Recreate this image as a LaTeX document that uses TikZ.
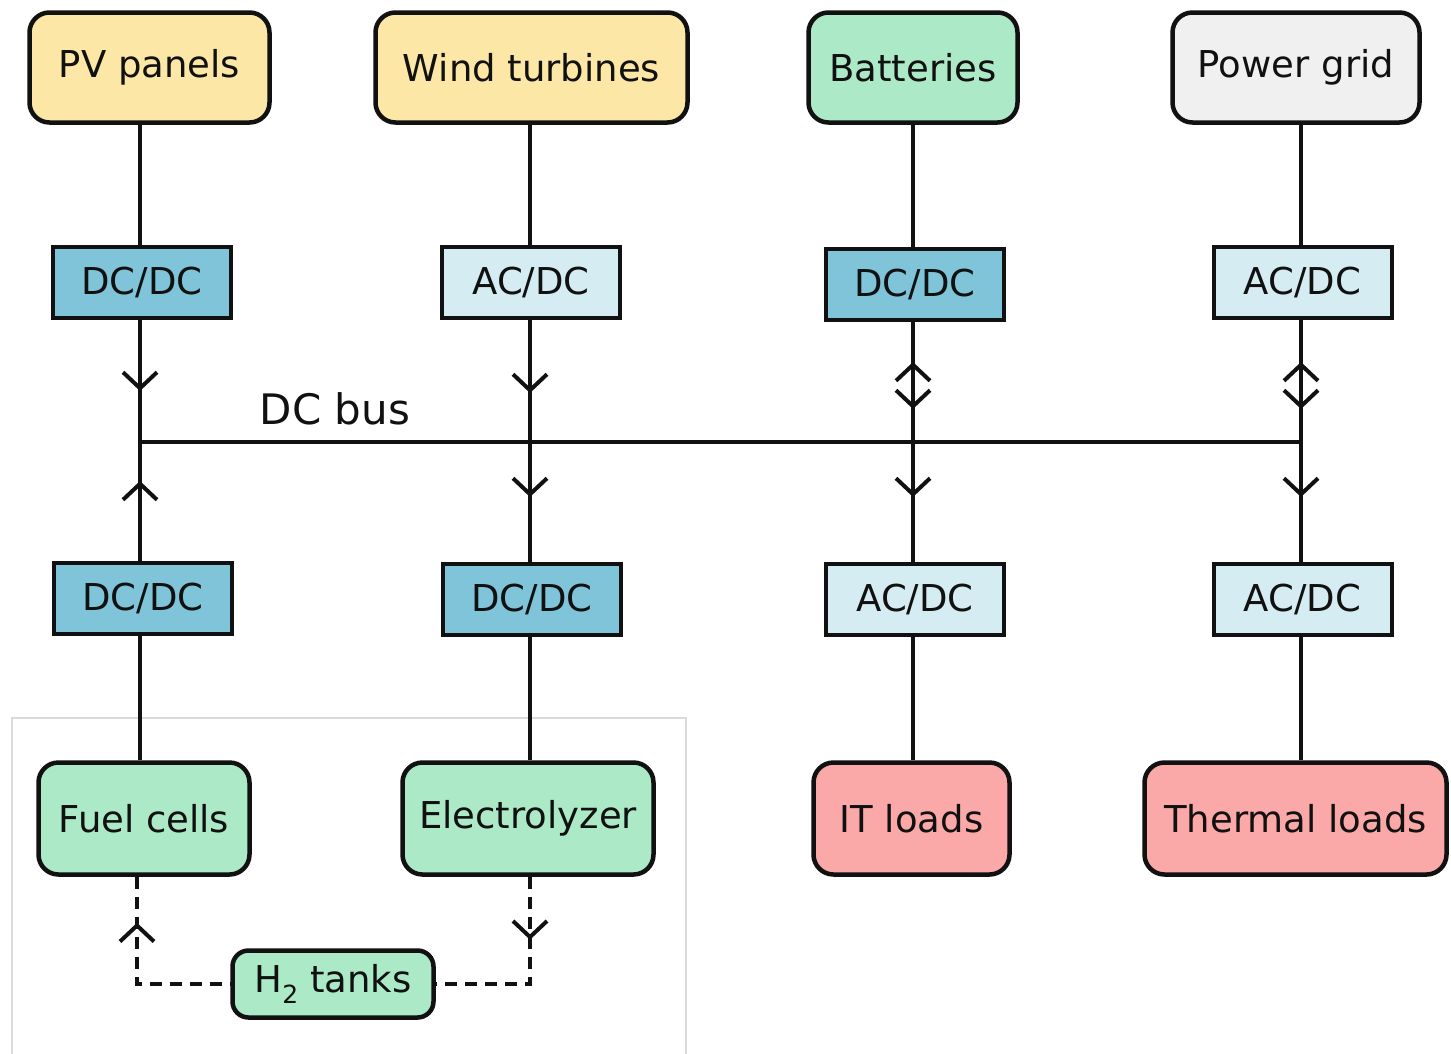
\documentclass[tikz,border=0pt]{standalone}
\usepackage{fontspec}
\setmainfont{DejaVu Sans}
\usetikzlibrary{arrows.meta,decorations.markings}

\definecolor{solar}{RGB}{253,231,166}
\definecolor{storage}{RGB}{171,233,199}
\definecolor{gridgray}{RGB}{240,240,240}
\definecolor{convdark}{RGB}{127,196,216}
\definecolor{convlight}{RGB}{214,236,243}
\definecolor{load}{RGB}{250,168,168}
\definecolor{framegray}{RGB}{218,218,218}
\definecolor{ink}{RGB}{17,17,17}

\tikzset{
  >={Straight Barb[length=16pt,width=34pt,line width=4pt]},
  unit/.style={draw=ink, line width=4.5pt, rounded corners=20pt, inner sep=0pt,
    text=ink, font=\fontsize{37}{44}\selectfont},
  conv/.style={draw=ink, line width=4pt, inner sep=0pt,
    minimum width=178pt, minimum height=71pt, text=ink,
    font=\fontsize{37}{44}\selectfont},
  wire/.style={draw=ink, line width=3.8pt},
  h2line/.style={wire, dash pattern=on 12pt off 8pt},
  mk/.style={postaction={decorate},
    decoration={markings, mark=at position #1 with {\arrow{>}}}},
  mkr/.style={postaction={decorate},
    decoration={markings, mark=at position #1 with {\arrowreversed{>}}}},
  mkboth/.style 2 args={postaction={decorate},
    decoration={markings,
      mark=at position #1 with {\arrowreversed{>}},
      mark=at position #2 with {\arrow{>}}}},
}

\begin{document}
\begin{tikzpicture}[x=1pt,y=-1pt]
\useasboundingbox (0,0) rectangle (1451,1053);

% hydrogen subsystem frame
\draw[framegray, line width=2pt] (12,1060) -- (12,718) -- (686,718) -- (686,1060);

% sources and storage
\node[unit, fill=solar, minimum width=240pt, minimum height=110pt] (pv) at (149.5,67.5) {PV panels};
\node[unit, fill=solar, minimum width=312pt, minimum height=110pt] (wind) at (531.5,67.5) {Wind turbines};
\node[unit, fill=storage, minimum width=209pt, minimum height=110pt] (batt) at (913,67.5) {Batteries};
\node[unit, fill=gridgray, minimum width=247pt, minimum height=110pt] (grid) at (1296,67.5) {Power grid};

% upper converters
\node[conv, fill=convdark] (c1) at (142,282.5) {DC/DC};
\node[conv, fill=convlight] (c2) at (531,282.5) {AC/DC};
\node[conv, fill=convdark] (c3) at (915,284.5) {DC/DC};
\node[conv, fill=convlight] (c4) at (1302.5,282.5) {AC/DC};

% lower converters
\node[conv, fill=convdark] (c5) at (143,598.5) {DC/DC};
\node[conv, fill=convdark] (c6) at (532,599.5) {DC/DC};
\node[conv, fill=convlight] (c7) at (915,599.5) {AC/DC};
\node[conv, fill=convlight] (c8) at (1302.5,599.5) {AC/DC};

% hydrogen chain and loads
\node[unit, fill=storage, minimum width=211pt, minimum height=112pt] (fc) at (144,818.5) {Fuel cells};
\node[unit, fill=storage, minimum width=251pt, minimum height=112pt] (el) at (528,818.5) {Electrolyzer};
\node[unit, fill=load, minimum width=196pt, minimum height=112pt] (it) at (911.5,818.5) {IT loads};
\node[unit, fill=load, minimum width=302pt, minimum height=112pt] (th) at (1295.5,818.5) {Thermal loads};
\node[unit, fill=storage, rounded corners=16pt, minimum width=201pt, minimum height=67pt] (h2) at (333,984)
  {H\raisebox{-0.28em}{\fontsize{25}{25}\selectfont 2} tanks};

% DC bus
\coordinate (b1) at (140,442);
\coordinate (b2) at (530,442);
\coordinate (b3) at (913,442);
\coordinate (b4) at (1301,442);
\draw[wire] (b1) -- (b4);
\node[font=\fontsize{42}{50}\selectfont, text=ink] (buslabel) at (335,409) {DC bus};

% sources to converters
\draw[wire] (pv.south -| b1) -- (c1.north -| b1);
\draw[wire] (wind.south -| b2) -- (c2.north -| b2);
\draw[wire] (batt.south -| b3) -- (c3.north -| b3);
\draw[wire] (grid.south -| b4) -- (c4.north -| b4);

% converters to bus
\draw[wire, mk=71pt] (c1.south -| b1) -- (b1);
\draw[wire, mk=73pt] (c2.south -| b2) -- (b2);
\draw[wire, mkboth={40pt}{87pt}] (c3.south -| b3) -- (b3);
\draw[wire, mkboth={42pt}{89pt}] (c4.south -| b4) -- (b4);

% bus to lower converters
\draw[wire, mk=80pt] (c5.north -| b1) -- (b1);
\draw[wire, mk=55pt] (b2) -- (c6.north -| b2);
\draw[wire, mk=55pt] (b3) -- (c7.north -| b3);
\draw[wire, mk=55pt] (b4) -- (c8.north -| b4);

% lower converters to units
\draw[wire] (c5.south -| b1) -- (fc.north -| b1);
\draw[wire] (c6.south -| b2) -- (el.north -| b2);
\draw[wire] (c7.south -| b3) -- (it.north -| b3);
\draw[wire] (c8.south -| b4) -- (th.north -| b4);

% hydrogen flows
\draw[h2line, mkr=46pt] ([xshift=-7pt]fc.south) |- (h2.west);
\draw[h2line, mk=63pt] ([xshift=2pt]el.south) |- (h2.east);
\end{tikzpicture}
\end{document}
